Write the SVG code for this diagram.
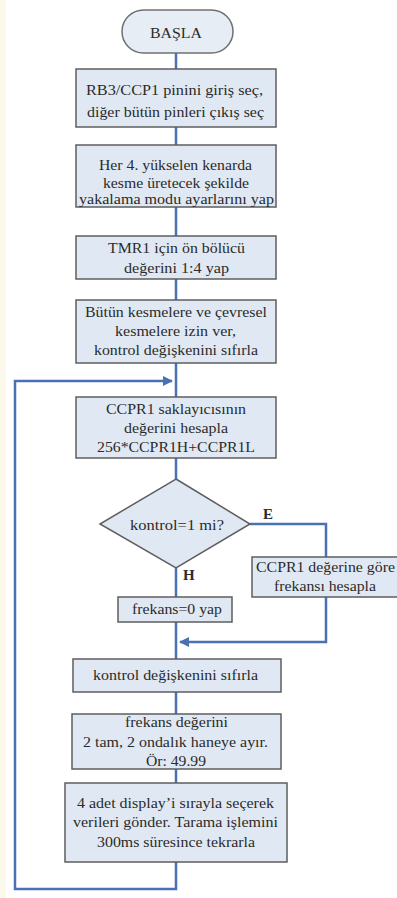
<svg xmlns="http://www.w3.org/2000/svg" width="397" height="898" viewBox="0 0 397 898">
<defs>
<style>
.box{fill:#e0e9f3;stroke:#5e5e5e;stroke-width:1.5}
.term{fill:#e6edf5;stroke:#707070;stroke-width:1.5}
.t{font-family:"Liberation Serif","Times New Roman",serif;font-size:15.5px;fill:#2b2b2b;text-anchor:middle}
.lbl{font-family:"Liberation Serif","Times New Roman",serif;font-size:15px;font-weight:bold;fill:#2b2b2b}
.c{fill:none;stroke:#4a72b2;stroke-width:2.5}
</style>
<marker id="ah" viewBox="0 0 10 10" refX="9" refY="5" markerWidth="4" markerHeight="4" orient="auto" markerUnits="strokeWidth">
<path d="M0,0 L10,5 L0,10 z" fill="#4a72b2"/>
</marker>
</defs>
<rect x="0" y="0" width="397" height="898" fill="#ffffff"/>
<rect x="0" y="0" width="6" height="898" fill="#fbf8ec"/>
<g id="connectors">
<line class="c" x1="176" y1="53" x2="176" y2="69"/>
<line class="c" x1="176" y1="127" x2="176" y2="145"/>
<line class="c" x1="176" y1="207" x2="176" y2="236"/>
<line class="c" x1="176" y1="279" x2="176" y2="300"/>
<line class="c" x1="176" y1="363" x2="176" y2="397"/>
<line class="c" x1="176" y1="458" x2="176" y2="479"/>
<line class="c" x1="176" y1="568" x2="176" y2="597"/>
<line class="c" x1="176" y1="622" x2="176" y2="659"/>
<polyline class="c" points="250,524 326,524 326,557"/>
<polyline class="c" points="326,597 326,642 180,642" marker-end="url(#ah)"/>
<line class="c" x1="176" y1="692" x2="176" y2="714"/>
<line class="c" x1="176" y1="769" x2="176" y2="783"/>
<polyline class="c" points="176,862 176,889 15,889 15,381 172,381" marker-end="url(#ah)"/>
</g>
<g id="start">
<rect class="term" x="122" y="10" width="111" height="43" rx="21.5" ry="21.5"/>
<text class="t" x="176" y="38" textLength="52" lengthAdjust="spacingAndGlyphs">BAŞLA</text>
</g>
<g id="n1">
<rect class="box" x="76" y="69" width="200" height="58"/>
<text class="t" x="174.5" y="95" textLength="177" lengthAdjust="spacingAndGlyphs">RB3/CCP1 pinini giriş seç,</text>
<text class="t" x="175.5" y="117" textLength="177" lengthAdjust="spacingAndGlyphs">diğer bütün pinleri çıkış seç</text>
</g>
<g id="n2">
<rect class="box" x="76" y="145" width="200" height="62"/>
<text class="t" x="175.5" y="170" textLength="153" lengthAdjust="spacingAndGlyphs">Her 4. yükselen kenarda</text>
<text class="t" x="176" y="188" textLength="146" lengthAdjust="spacingAndGlyphs">kesme üretecek şekilde</text>
<text class="t" x="176.5" y="204" textLength="195" lengthAdjust="spacingAndGlyphs">yakalama modu ayarlarını yap</text>
</g>
<g id="n3">
<rect class="box" x="76" y="236" width="200" height="43"/>
<text class="t" x="176.5" y="253" textLength="137" lengthAdjust="spacingAndGlyphs">TMR1 için ön bölücü</text>
<text class="t" x="176.5" y="273" textLength="105" lengthAdjust="spacingAndGlyphs">değerini 1:4 yap</text>
</g>
<g id="n4">
<rect class="box" x="76" y="300" width="200" height="63"/>
<text class="t" x="176" y="317" textLength="182" lengthAdjust="spacingAndGlyphs">Bütün kesmelere ve çevresel</text>
<text class="t" x="175.5" y="336" textLength="121" lengthAdjust="spacingAndGlyphs">kesmelere izin ver,</text>
<text class="t" x="176" y="355" textLength="164" lengthAdjust="spacingAndGlyphs">kontrol değişkenini sıfırla</text>
</g>
<g id="n5">
<rect class="box" x="76" y="397" width="200" height="61"/>
<text class="t" x="176" y="414" textLength="140" lengthAdjust="spacingAndGlyphs">CCPR1 saklayıcısının</text>
<text class="t" x="176" y="433" textLength="104" lengthAdjust="spacingAndGlyphs">değerini hesapla</text>
<text class="t" x="176" y="452" textLength="158" lengthAdjust="spacingAndGlyphs">256*CCPR1H+CCPR1L</text>
</g>
<g id="d1">
<polygon class="box" points="176,479 250,524 176,568 100,524"/>
<text class="t" x="177" y="530" textLength="94" lengthAdjust="spacingAndGlyphs">kontrol=1 mi?</text>
<text class="lbl" x="263" y="519">E</text>
<text class="lbl" x="183" y="580">H</text>
</g>
<g id="n6">
<rect class="box" x="252" y="557" width="147" height="40"/>
<text class="t" x="325.5" y="572" textLength="139" lengthAdjust="spacingAndGlyphs">CCPR1 değerine göre</text>
<text class="t" x="325" y="591" textLength="102" lengthAdjust="spacingAndGlyphs">frekansı hesapla</text>
</g>
<g id="n7">
<rect class="box" x="118" y="597" width="114" height="25"/>
<text class="t" x="177" y="614" textLength="90" lengthAdjust="spacingAndGlyphs">frekans=0 yap</text>
</g>
<g id="n8">
<rect class="box" x="73" y="659" width="208" height="33"/>
<text class="t" x="175.5" y="680" textLength="165" lengthAdjust="spacingAndGlyphs">kontrol değişkenini sıfırla</text>
</g>
<g id="n9">
<rect class="box" x="72" y="714" width="209" height="55"/>
<text class="t" x="176.5" y="727" textLength="103" lengthAdjust="spacingAndGlyphs">frekans değerini</text>
<text class="t" x="175.5" y="747" textLength="185" lengthAdjust="spacingAndGlyphs">2 tam, 2 ondalık haneye ayır.</text>
<text class="t" x="176" y="766" textLength="60" lengthAdjust="spacingAndGlyphs">Ör: 49.99</text>
</g>
<g id="n10">
<rect class="box" x="65" y="783" width="222" height="79"/>
<text class="t" x="175.5" y="808" textLength="197" lengthAdjust="spacingAndGlyphs">4 adet display’i sırayla seçerek</text>
<text class="t" x="175.5" y="827" textLength="205" lengthAdjust="spacingAndGlyphs">verileri gönder. Tarama işlemini</text>
<text class="t" x="176" y="847" textLength="158" lengthAdjust="spacingAndGlyphs">300ms süresince tekrarla</text>
</g>
</svg>
